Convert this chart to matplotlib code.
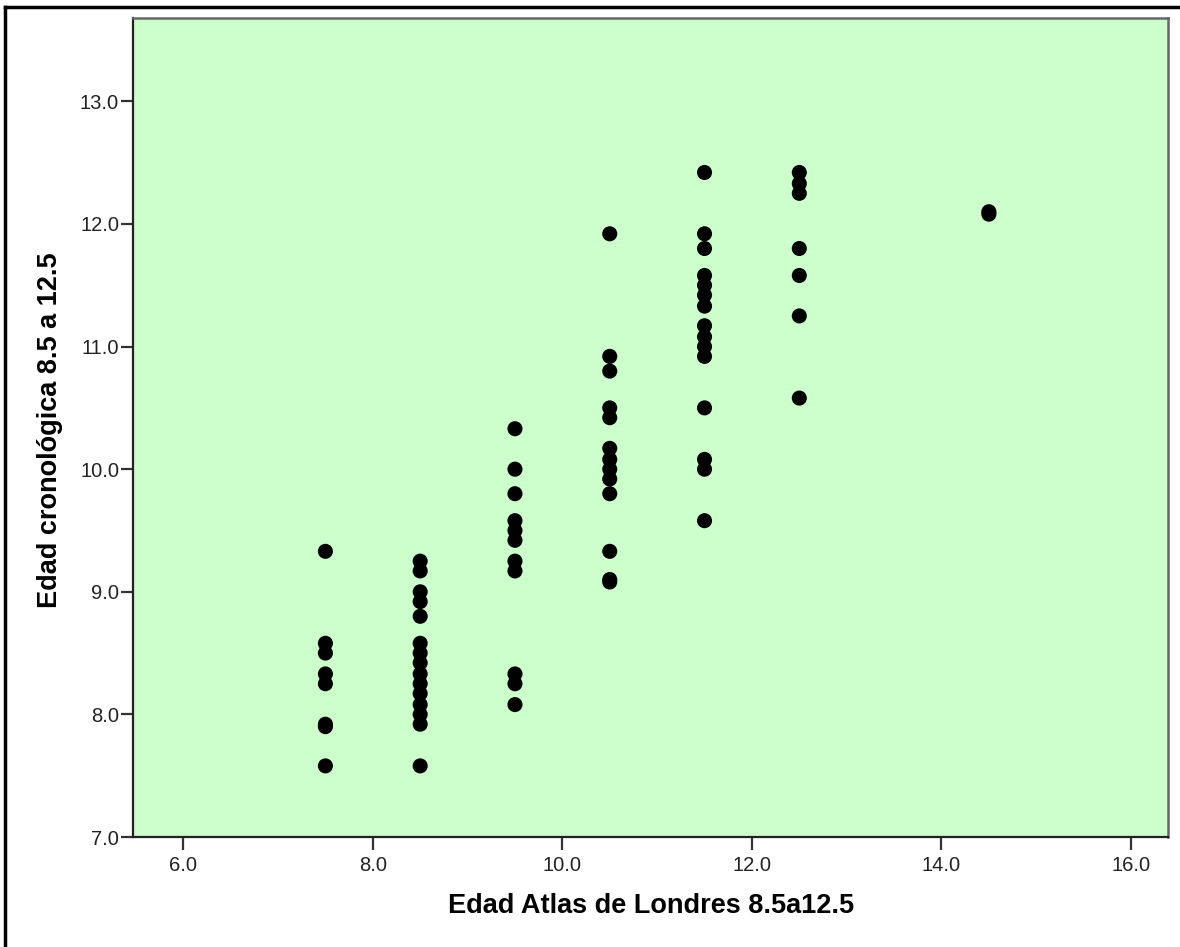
import matplotlib.pyplot as plt
from matplotlib.lines import Line2D

# =====================================================
# DATA
# =====================================================

# atlas age groups (x) and the chronological ages seen in each column (y)
atlas_groups = [7.5, 8.5, 9.5, 10.5, 11.5, 12.5, 14.5]

edad_7_5 = [9.33, 8.58, 8.50, 8.33, 8.25, 7.92, 7.90, 7.58]
edad_8_5 = [9.25, 9.17, 9.00, 8.92, 8.80, 8.58, 8.50, 8.42, 8.33, 8.25,
            8.17, 8.08, 8.00, 7.92, 7.58]
edad_9_5 = [10.33, 10.00, 9.80, 9.58, 9.50, 9.42, 9.25, 9.17, 8.33, 8.25, 8.08]
edad_10_5 = [11.92, 10.92, 10.80, 10.50, 10.42, 10.17, 10.08, 10.00, 9.92,
             9.80, 9.33, 9.10, 9.08]
edad_11_5 = [12.42, 11.92, 11.80, 11.58, 11.50, 11.42, 11.33, 11.17, 11.08,
             11.00, 10.92, 10.50, 10.08, 10.00, 9.58]
edad_12_5 = [12.42, 12.33, 12.25, 11.80, 11.58, 11.25, 10.58]
edad_14_5 = [12.10, 12.08]

columns = [edad_7_5, edad_8_5, edad_9_5, edad_10_5, edad_11_5, edad_12_5, edad_14_5]

x_ticks = [6.0, 8.0, 10.0, 12.0, 14.0, 16.0]
y_ticks = [7.0, 8.0, 9.0, 10.0, 11.0, 12.0, 13.0]

atlas_x = []
edad_y = []
for group, values in zip(atlas_groups, columns):
    atlas_x += [group] * len(values)
    edad_y += values

# =====================================================
# PLOT
# =====================================================

plt.rcParams["font.family"] = ["Liberation Sans", "DejaVu Sans"]

fig = plt.figure(figsize=(11.8, 9.47), dpi=100)
ax = fig.add_axes([133 / 1180, 110 / 947, 1035 / 1180, 819 / 947])
ax.set_facecolor("#ccffcc")

ax.scatter(atlas_x, edad_y, s=118, color="black", edgecolors="none", zorder=3)

ax.set_xlim(5.47, 16.39)
ax.set_ylim(7.0, 13.68)
ax.set_xticks(x_ticks)
ax.set_xticklabels([f"{v:.1f}" for v in x_ticks])
ax.set_yticks(y_ticks)
ax.set_yticklabels([f"{v:.1f}" for v in y_ticks])
ax.tick_params(axis="both", direction="out", length=9, width=1.6, color="#333333",
               labelsize=14.5, labelcolor="#222222")
ax.tick_params(axis="x", pad=5)
ax.tick_params(axis="y", pad=1)

for side in ["left", "bottom"]:
    ax.spines[side].set_color("#222222")
    ax.spines[side].set_linewidth(1.6)
for side in ["top", "right"]:
    ax.spines[side].set_color("#666666")
    ax.spines[side].set_linewidth(1.8)

ax.set_xlabel("Edad Atlas de Londres 8.5a12.5", fontsize=19.5, fontweight="bold")
ax.set_ylabel("Edad cronológica 8.5 a 12.5", fontsize=19.5, fontweight="bold")
ax.xaxis.label.set_va("center")
ax.yaxis.label.set_va("center")
ax.xaxis.set_label_coords(0.5005, -0.0842)
ax.yaxis.set_label_coords(-0.0805, 0.497)

# outer frame (left and top edges)
fig.add_artist(Line2D([5 / 1180, 5 / 1180], [0, 1 - 7 / 947], transform=fig.transFigure,
                      color="black", linewidth=2.5))
fig.add_artist(Line2D([5 / 1180, 1], [1 - 7 / 947, 1 - 7 / 947], transform=fig.transFigure,
                      color="black", linewidth=2.5))

plt.savefig("out.png", dpi=100)
plt.close()
